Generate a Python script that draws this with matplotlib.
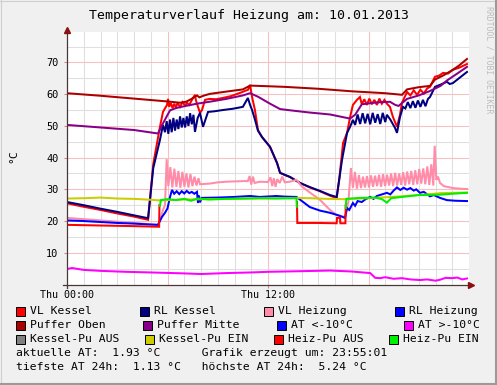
import matplotlib
matplotlib.use('Agg')
import matplotlib.pyplot as plt
import numpy as np
from matplotlib.patches import Rectangle
from matplotlib.lines import Line2D

nan = float('nan')

# ---------------- data (time in hours, temperature in °C) ----------------
vl_kessel = [(0, 25.6), (1, 24.5), (2, 23.5), (3, 22.4), (4, 21.4), (4.84, 20.4), (5.15, 38.0), (5.55, 49.7),
             (5.73, 54.4), (5.85, 55.5), (5.97, 56.6), (6.03, 58.5), (6.1, 56.0), (6.2, 57.2), (6.3, 55.6),
             (6.4, 57.0), (6.5, 55.8), (6.6, 57.2), (6.75, 56.0), (6.9, 57.5), (7.05, 56.4), (7.16, 57.3),
             (7.3, 56.6), (7.46, 58.2), (7.64, 59.8), (7.7, 58.0), (7.82, 56.0), (7.94, 54.1), (8.06, 55.0),
             (8.24, 58.2), (8.5, 58.5), (8.9, 58.4), (9.3, 58.8), (9.8, 59.4), (10.33, 60.4), (10.81, 61.4),
             (10.93, 62.9), (11.05, 59.1), (11.22, 55.0), (11.4, 48.7), (11.64, 46.5), (12.12, 43.4),
             (12.54, 38.3), (12.72, 35.2), (13.0, 34.5), (13.31, 33.9), (13.91, 32.0), (14.5, 30.6),
             (15.1, 29.4), (15.7, 28.0), (16.1, 27.2), (16.25, 33.0), (16.48, 44.6), (16.72, 47.8),
             (16.9, 52.8), (17.07, 56.6), (17.31, 58.2), (17.49, 59.1), (17.6, 56.8), (17.75, 58.4),
             (17.9, 56.6), (18.05, 58.6), (18.2, 56.8), (18.35, 58.2), (18.5, 56.6), (18.65, 58.6),
             (18.8, 57.0), (18.95, 58.2), (19.1, 57.0), (19.28, 56.0), (19.46, 52.8), (19.7, 49.7),
             (19.88, 53.5), (20.0, 57.3), (20.3, 60.7), (20.5, 59.6), (20.7, 61.2), (20.9, 59.8),
             (21.1, 61.4), (21.3, 60.2), (21.5, 61.8), (21.67, 62.3), (21.97, 65.5), (22.2, 65.8),
             (22.45, 66.7), (22.75, 66.5), (23.04, 67.7), (23.4, 68.3), (23.88, 69.5)]

rl_kessel = [(0, 26.0), (1, 25.0), (2, 23.9), (3, 22.9), (4, 21.8), (4.84, 20.9), (5.15, 36.7), (5.55, 45.6),
             (5.73, 50.3), (5.85, 48.0), (5.95, 51.5), (6.05, 47.5), (6.15, 52.0), (6.25, 48.0), (6.35, 52.5),
             (6.45, 48.5), (6.55, 52.0), (6.65, 49.0), (6.75, 53.0), (6.85, 49.5), (6.95, 52.5), (7.05, 49.5),
             (7.15, 53.0), (7.25, 50.0), (7.35, 54.0), (7.45, 50.5), (7.55, 53.5), (7.64, 48.1), (7.8, 52.5),
             (7.94, 54.1), (8.12, 49.7), (8.42, 54.4), (8.8, 54.6), (9.3, 55.0), (9.9, 55.4), (10.5, 56.0),
             (10.8, 58.8), (10.93, 56.6), (11.05, 55.0), (11.22, 52.0), (11.4, 48.5), (11.64, 46.5),
             (12.12, 43.4), (12.54, 38.3), (12.72, 35.2), (13.0, 34.6), (13.31, 33.9), (13.91, 32.0),
             (14.5, 30.7), (15.1, 29.5), (15.7, 28.2), (16.1, 27.6), (16.25, 33.0), (16.42, 39.3),
             (16.72, 47.8), (16.9, 49.7), (17.07, 51.9), (17.2, 50.3), (17.35, 53.6), (17.5, 50.6),
             (17.65, 54.0), (17.8, 50.8), (17.95, 53.8), (18.1, 50.5), (18.25, 54.1), (18.4, 51.0),
             (18.55, 53.7), (18.7, 50.6), (18.85, 54.1), (19.0, 51.2), (19.1, 53.5), (19.3, 52.0),
             (19.58, 49.4), (19.7, 47.8), (19.88, 52.8), (20.06, 56.0), (20.2, 55.5), (20.35, 57.5),
             (20.5, 55.6), (20.65, 57.8), (20.8, 55.7), (20.95, 58.0), (21.1, 56.0), (21.25, 58.2),
             (21.4, 56.2), (21.55, 58.5), (21.67, 59.1), (21.97, 62.3), (22.3, 63.0), (22.68, 63.9),
             (22.85, 63.2), (23.04, 63.5), (23.4, 65.0), (23.88, 67.0)]

vl_heizung = [(0, 21.0), (1, 20.6), (2, 20.2), (3, 19.8), (4, 19.4), (5, 19.0), (5.45, 18.8), (5.6, 21.0),
              (5.73, 23.5), (5.85, 25.0), (5.95, 39.5), (6.05, 31.0), (6.17, 37.0), (6.29, 30.6), (6.41, 36.5),
              (6.53, 30.8), (6.65, 35.8), (6.77, 30.5), (6.89, 35.5), (7.01, 30.8), (7.13, 35.0), (7.25, 30.6),
              (7.37, 34.8), (7.49, 31.0), (7.61, 34.0), (7.73, 31.2), (7.85, 33.5), (7.94, 31.6),
              (8.5, 31.8), (9.0, 32.2), (9.5, 32.4), (10.0, 32.5), (10.6, 32.6), (10.8, 32.6), (10.9, 34.2),
              (11.0, 31.5), (11.1, 34.0), (11.2, 32.0), (11.5, 32.4), (12.0, 32.3), (12.15, 33.8), (12.25, 31.0),
              (12.35, 33.5), (12.45, 30.8), (12.55, 33.2), (12.7, 32.0), (12.85, 34.0), (13.0, 32.2),
              (13.3, 32.4), (13.7, 33.0), (14.0, 31.0), (14.5, 29.0), (15.1, 26.7), (15.7, 23.5), (16.1, 21.9),
              (16.6, 21.3), (16.8, 26.0), (16.95, 36.7), (17.07, 30.5), (17.19, 35.5), (17.31, 30.2),
              (17.43, 34.5), (17.55, 30.4), (17.67, 34.0), (17.79, 30.6), (17.91, 34.2), (18.03, 30.6),
              (18.15, 34.4), (18.27, 30.8), (18.39, 34.3), (18.51, 31.0), (18.63, 34.6), (18.75, 30.8),
              (18.87, 34.8), (18.99, 31.0), (19.11, 34.6), (19.23, 31.2), (19.35, 35.0), (19.47, 31.0),
              (19.59, 35.2), (19.71, 31.2), (19.83, 35.0), (19.95, 31.4), (20.07, 35.4), (20.19, 31.2),
              (20.31, 35.6), (20.43, 31.6), (20.55, 35.8), (20.67, 31.4), (20.79, 36.0), (20.91, 31.6),
              (21.03, 36.4), (21.15, 31.8), (21.27, 36.6), (21.39, 31.6), (21.51, 37.2), (21.63, 31.4),
              (21.75, 37.9), (21.87, 31.2), (21.95, 43.7), (22.05, 33.0), (22.15, 34.0), (22.27, 32.0),
              (22.5, 31.0), (23.04, 30.4), (23.5, 30.2), (23.88, 30.1)]

rl_heizung = [(0, 20.2), (1, 20.0), (2, 19.7), (3, 19.4), (4, 19.2), (5, 18.9), (5.43, 18.8), (5.67, 21.3),
              (5.85, 22.6), (6.0, 24.0), (6.15, 27.6), (6.27, 29.8), (6.4, 28.6), (6.55, 29.4), (6.7, 28.5),
              (6.85, 29.4), (7.0, 28.7), (7.15, 29.5), (7.3, 28.8), (7.45, 29.2), (7.6, 28.6), (7.76, 29.2),
              (7.82, 25.7), (7.88, 28.0), (7.94, 25.9), (8.05, 27.3), (9.0, 27.4), (10.0, 27.6), (10.93, 27.9),
              (11.5, 27.6), (12.2, 27.8), (12.5, 27.9), (13.0, 27.7), (13.7, 27.6), (14.1, 26.0), (14.5, 24.4),
              (15.1, 23.3), (15.7, 22.6), (16.2, 21.8), (16.6, 21.0), (16.72, 24.1), (16.85, 23.5),
              (17.07, 25.7), (17.2, 24.8), (17.35, 26.3), (17.6, 26.0), (17.8, 26.8), (18.1, 27.6),
              (18.3, 27.0), (18.5, 27.9), (18.8, 28.4), (19.1, 28.9), (19.3, 28.4), (19.5, 29.6), (19.7, 30.6),
              (19.9, 29.8), (20.1, 30.5), (20.3, 29.9), (20.5, 30.4), (20.7, 29.6), (20.85, 30.0),
              (21.07, 28.9), (21.3, 29.2), (21.67, 27.8), (21.9, 28.2), (22.27, 27.3), (22.68, 26.6),
              (23.2, 26.4), (23.88, 26.3)]

puffer_oben = [(0, 60.3), (2, 59.5), (4, 58.6), (6.0, 57.7), (6.75, 57.3), (7.1, 57.6), (7.4, 58.4),
               (7.76, 59.6), (7.9, 59.0), (8.2, 59.6), (8.54, 60.1), (9.5, 60.8), (10.5, 61.5), (10.93, 62.7),
               (12, 62.5), (13, 62.3), (14, 62.0), (15, 61.7), (16, 61.3), (17, 60.9), (18, 60.6), (19, 60.3),
               (20.0, 59.8), (20.3, 61.5), (21.0, 62.2), (21.67, 62.6), (21.97, 64.6), (22.5, 66.0),
               (23.04, 67.7), (23.4, 69.0), (23.88, 71.1)]

puffer_mitte = [(0, 50.3), (2, 49.5), (4, 48.7), (5.43, 47.6), (5.7, 50.5), (6.15, 54.9), (6.5, 55.6),
                (7.0, 56.2), (7.76, 57.0), (8.5, 57.6), (9.5, 58.5), (10.5, 59.6), (10.93, 60.3), (11.4, 59.2),
                (12.12, 57.0), (12.72, 55.3), (13.5, 54.8), (14.5, 54.2), (15.7, 53.6), (16.9, 52.3),
                (17.2, 53.5), (17.6, 56.8), (18.5, 57.4), (19.28, 57.6), (19.6, 56.6), (19.8, 56.3),
                (20.3, 58.5), (21.0, 59.6), (21.67, 61.0), (22.3, 62.6), (22.68, 64.3), (23.3, 66.5),
                (23.88, 68.6)]

at_ueber = [(0, 4.9), (0.3, 5.2), (1, 4.6), (2, 4.3), (3.5, 4.0), (5, 3.8), (7, 3.5), (8, 3.3), (9.5, 3.6),
            (11, 3.8), (12, 4.0), (14, 4.2), (15.7, 4.4), (17, 4.1), (18.1, 3.6), (18.4, 2.1), (18.7, 2.0),
            (19, 2.3), (19.5, 1.8), (20, 2.0), (20.5, 1.6), (21.07, 1.4), (21.5, 1.6), (22, 1.2),
            (22.27, 1.5), (22.6, 2.1), (23, 2.0), (23.3, 2.2), (23.6, 1.6), (23.88, 1.9)]

kessel_pu_ein = [(0, 27.1), (1, 27.2), (2, 27.4), (3, 27.1), (4, 27.0), (5, 26.7), (5.55, 26.5), (7, 26.8),
                 (10, 27.0), (13.7, 27.3), (14.5, 27.2), (15.5, 27.0), (16.6, 26.9), (18, 27.2), (20, 27.8),
                 (21.5, 28.4), (22.3, 28.8), (23.88, 29.0)]

heiz_pu_aus = [(0, 18.8), (2, 18.6), (4, 18.4), (5.5, 18.2), (5.52, 25.0), (5.53, nan), (13.73, 26.0),
               (13.75, 19.4), (15, 19.4), (16.1, 19.3), (16.12, 21.0), (16.3, 21.0), (16.32, 19.3),
               (16.62, 19.3), (16.64, 25.0)]

heiz_pu_ein = [(5.55, 24.8), (5.6, 26.6), (6.0, 26.9), (6.5, 26.6), (7.0, 27.0), (7.4, 26.4), (7.8, 27.1),
               (8.5, 26.8), (9.5, 27.0), (10.5, 27.1), (11.5, 27.2), (12.5, 27.1), (13.7, 27.2), (13.72, 24.5),
               (13.73, nan), (16.64, 24.1), (16.68, 27.0), (17.5, 27.3), (18.4, 27.4), (18.8, 26.9),
               (19.1, 25.8), (19.35, 27.2), (20, 27.6), (21, 28.2), (22.27, 28.3), (23, 28.6), (23.88, 28.9)]

series = [
    ("VL Kessel", vl_kessel, "#FF0000"),
    ("RL Kessel", rl_kessel, "#000080"),
    ("VL Heizung", vl_heizung, "#FF8CA8"),
    ("RL Heizung", rl_heizung, "#0000FF"),
    ("Puffer Oben", puffer_oben, "#AA0000"),
    ("Puffer Mitte", puffer_mitte, "#880088"),
    ("AT >-10°C", at_ueber, "#FF00FF"),
    ("Kessel-Pu EIN", kessel_pu_ein, "#CCCC00"),
    ("Heiz-Pu AUS", heiz_pu_aus, "#FF0000"),
    ("Heiz-Pu EIN", heiz_pu_ein, "#00EE00"),
]

legend_rows = [
    [("VL Kessel", "#FF0000", 30), ("RL Kessel", "#000080", 154), ("VL Heizung", "#FF8CA8", 278), ("RL Heizung", "#0000FF", 409)],
    [("Puffer Oben", "#AA0000", 30), ("Puffer Mitte", "#880088", 157), ("AT <-10°C", "#0000FF", 291), ("AT >-10°C", "#FF00FF", 418)],
    [("Kessel-Pu AUS", "#808080", 30), ("Kessel-Pu EIN", "#CCCC00", 159), ("Heiz-Pu AUS", "#FF0000", 288), ("Heiz-Pu EIN", "#00EE00", 403)],
]
info_lines = ["aktuelle AT:  1.93 °C      Grafik erzeugt um: 23:55:01",
              "tiefste AT 24h:  1.13 °C   höchste AT 24h:  5.24 °C"]
title = "Temperaturverlauf Heizung am: 10.01.2013"
x_tick_pos = [0, 12]
x_tick_labels = ["Thu 00:00", "Thu 12:00"]
y_tick_pos = [0, 10, 20, 30, 40, 50, 60, 70]
y_tick_labels = ["", "10", "20", "30", "40", "50", "60", "70"]

# ---------------- figure ----------------
W, H = 497, 385
MONO = ["DejaVu Sans Mono"]
fig = plt.figure(figsize=(W / 100, H / 100), dpi=100)
fig.patch.set_facecolor('#F0F0F0')

def fx(px):
    return px / W

def fy(py):
    return 1 - py / H

L, R, T, B = 67, 469, 32.3, 284.5
ax = fig.add_axes([fx(L), fy(B), fx(R) - fx(L), fy(T) - fy(B)])
ax.set_facecolor('white')
ax.set_xlim(0, 24)
ax.set_ylim(0, 79.5)
for s in ax.spines.values():
    s.set_visible(False)

minor_c = '#DFDFDF'
major_c = '#F7BFBF'
for h in range(1, 24):
    ax.axvline(h, color=major_c if h % 6 == 0 else minor_c, lw=0.75, zorder=0.5)
for v in range(5, 80, 5):
    ax.axhline(v, color=major_c if v % 10 == 0 else minor_c, lw=0.75, zorder=0.5)

for name, pts, col in series:
    arr = np.array(pts, dtype=float)
    ax.plot(arr[:, 0], arr[:, 1], color=col, lw=1.45, solid_joinstyle='miter', zorder=2)

ax.set_xticks(x_tick_pos)
ax.set_xticklabels(x_tick_labels, family=MONO, fontsize=7.2)
ax.set_yticks(y_tick_pos)
ax.set_yticklabels(y_tick_labels, family=MONO, fontsize=7.4)
ax.tick_params(axis='both', length=2.5, width=0.75, color='#E08080', direction='out')
ax.tick_params(axis='x', pad=1.8)
ax.tick_params(axis='y', pad=3.6)

# axes lines and arrows
axis_c = '#4A3838'
ax.plot([0, 0], [-0.014, 1.0], transform=ax.transAxes, color=axis_c, lw=0.9, clip_on=False, zorder=3)
ax.plot([-0.01, 1.0], [0, 0], transform=ax.transAxes, color=axis_c, lw=0.9, clip_on=False, zorder=3)
ax.plot([0], [1.008], transform=ax.transAxes, marker='^', markersize=4, color='#8B1010', clip_on=False, zorder=3)
ax.plot([1.006], [0], transform=ax.transAxes, marker='>', markersize=4, color='#8B1010', clip_on=False, zorder=3)

# titles and labels
fig.text(fx(249), fy(16), title, family=MONO, fontsize=9.5, ha='center', va='center')
fig.text(fx(13.5), fy(156), "°C", family=MONO, fontsize=8.2, rotation=90, ha='center', va='center')
fig.text(fx(489), fy(6), "RRDTOOL / TOBI OETIKER", family=MONO, fontsize=5.9, rotation=270,
         ha='center', va='top', color='#BDBDBD')

# legend
row_y = [311, 325, 339]
for ry, row in zip(row_y, legend_rows):
    for label, col, tx in row:
        fig.add_artist(Rectangle((fx(tx - 14), fy(ry + 4.5)), 9 / W, 9 / H, transform=fig.transFigure,
                                 facecolor=col, edgecolor='black', lw=0.7))
        fig.text(fx(tx), fy(ry), label, family=MONO, fontsize=8.2, ha='left', va='center')
for iy, line in zip([353, 367], info_lines):
    fig.text(fx(16), fy(iy), line, family=MONO, fontsize=8.2, ha='left', va='center')

# frame
fig.add_artist(Line2D([0, 1], [fy(0.5), fy(0.5)], transform=fig.transFigure, color='#CFCFCF', lw=0.8))
fig.add_artist(Line2D([fx(0.5), fx(0.5)], [0, 1], transform=fig.transFigure, color='#CFCFCF', lw=0.8))
fig.add_artist(Line2D([0, 1], [fy(384), fy(384)], transform=fig.transFigure, color='#9A9A9A', lw=1.5))
fig.add_artist(Line2D([fx(496), fx(496)], [0, 1], transform=fig.transFigure, color='#9A9A9A', lw=1.5))

fig.savefig('out.png', dpi=100, facecolor=fig.get_facecolor())
